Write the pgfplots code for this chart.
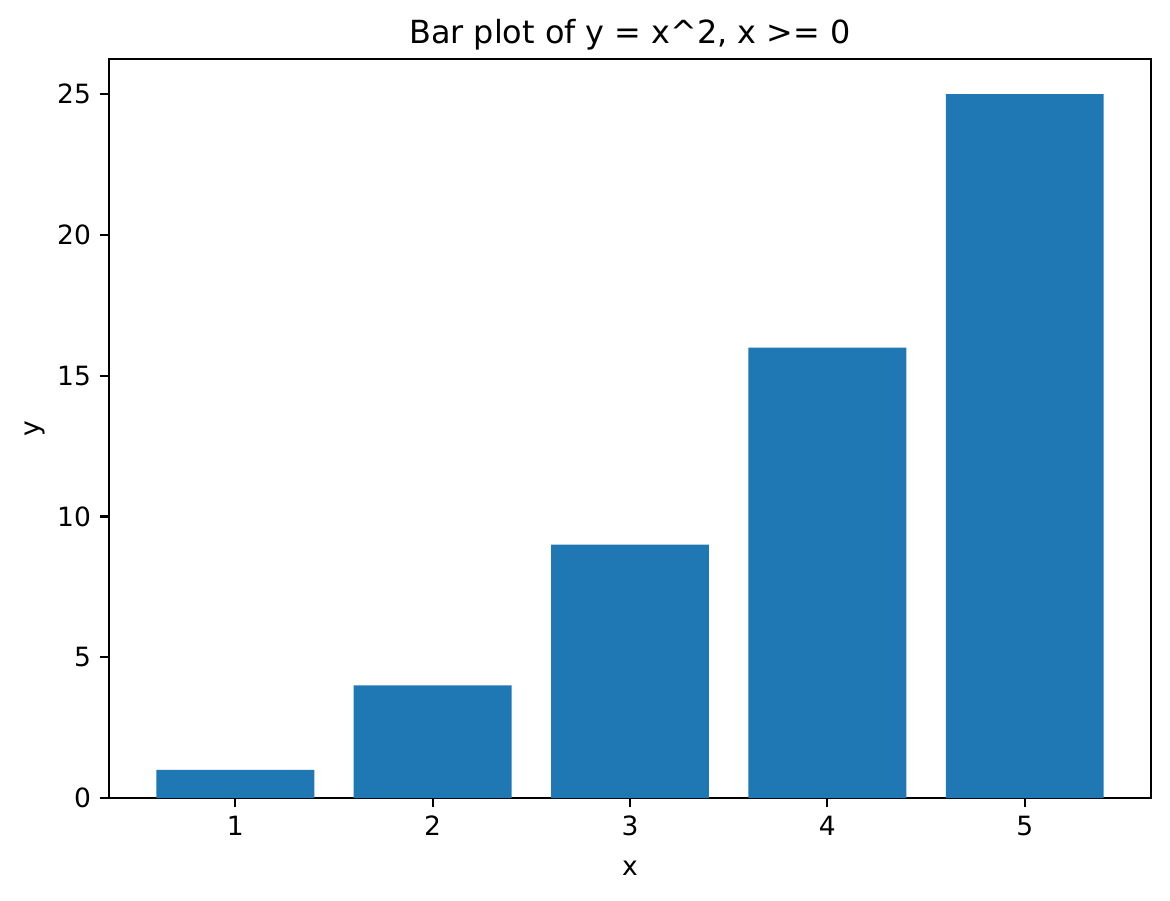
\documentclass[border=0pt]{standalone}
\usepackage{fontspec}
\setmainfont{DejaVu Sans}
\usepackage{pgfplots}
\pgfplotsset{compat=1.18}
\definecolor{barblue}{RGB}{31,119,180}

\begin{document}
\begin{tikzpicture}[x=0.4pt,y=0.4pt]
% fix the page to the reference's 1170x900 frame (1px = 0.4pt)
\useasboundingbox (-109,-102) rectangle (1061,798);
\begin{axis}[
  at={(0,0)}, anchor=south west,
  scale only axis,
  width=416.8pt, height=295.6pt,
  xmin=0.36, xmax=5.64,
  ymin=0, ymax=26.25,
  xtick={1,2,3,4,5},
  ytick={0,5,10,15,20,25},
  tick align=outside,
  tick pos=left,
  major tick length=3.7pt,
  every tick/.style={black, line width=0.85pt},
  axis line style={line width=0.85pt},
  tick label style={font=\fontsize{10.6}{12.7}\selectfont},
  /pgf/number format/assume math mode=true,
  label style={font=\fontsize{10.6}{12.7}\selectfont},
  xlabel style={yshift=-3.2pt},
  ylabel style={yshift=-2pt},
  title style={font=\fontsize{12.75}{15}\selectfont, yshift=-5.8pt},
  title={Bar plot of y = x\textasciicircum 2, x >= 0},
  xlabel={x},
  ylabel={y},
]
\addplot [ybar, bar width=0.8, bar shift=0pt, fill=barblue, draw=none]
coordinates {(1,1) (2,4) (3,9) (4,16) (5,25)};
\end{axis}
\end{tikzpicture}
\end{document}
